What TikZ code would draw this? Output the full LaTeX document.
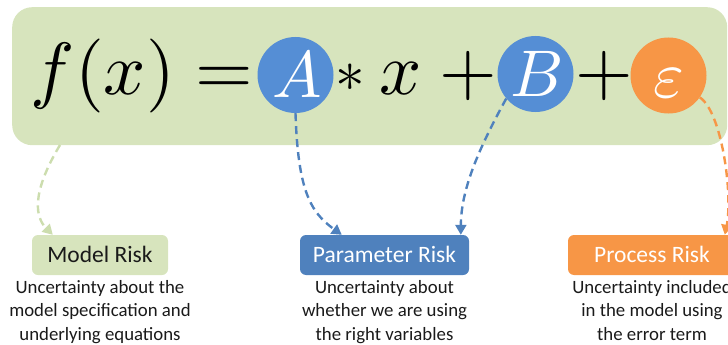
\documentclass[tikz,border=0pt]{standalone}
\usepackage{fontspec}
\setmainfont{Carlito}
\usetikzlibrary{arrows.meta}

\definecolor{olivebg}{HTML}{D7E4BD}
\definecolor{olivedash}{HTML}{CCDDAE}
\definecolor{bluecirc}{HTML}{558ED5}
\definecolor{bluebox}{HTML}{4F81BD}
\definecolor{orangeacc}{HTML}{F79646}
\definecolor{inktext}{HTML}{1A1A1A}

\tikzset{
  mathbig/.style={anchor=base, inner sep=0pt, scale=7.4, font=\fontsize{10}{12}\selectfont},
  coef/.style={circle, inner sep=0pt, minimum size=76pt},
  coefletter/.style={anchor=base, inner sep=0pt, text=white, scale=6.6,
    font=\fontsize{10}{12}\selectfont},
  riskbox/.style={rounded corners=6pt, inner sep=0pt, minimum height=40pt,
    font=\fontsize{23.5}{25}\selectfont, text height=15.1pt, text depth=0pt},
  desc/.style={anchor=base, align=center, inner sep=0pt, text=inktext,
    font=\fontsize{18.8}{23.5}\selectfont},
  flow/.style={line width=2.4pt, dash pattern=on 8pt off 5pt,
    -{Triangle[length=10pt,width=11pt]}}
}

\begin{document}
\begin{tikzpicture}[x=1pt,y=-1pt]
\useasboundingbox (0,0) rectangle (728,345);
\clip (0,0) rectangle (728,345);

% equation panel
\node[fill=olivebg, rounded corners=20pt, minimum width=715pt, minimum height=138pt,
  inner sep=0pt, anchor=north west] (eq) at (12,7) {};

% formula pieces
\node[mathbig] (fx) at (103,94) {$f(x)$};
\node[mathbig] (eqs) at (224,94) {$=$};
\node[coef, fill=bluecirc] (A) at (295.5,75) {};
\node[coefletter] (Al) at (297,97) {$A$};
\node[mathbig, scale=0.8] (star) at (350,91) {$\ast$};
\node[mathbig] (xv) at (401,94) {$x$};
\node[mathbig] (plus1) at (468,94) {$+$};
\node[coef, fill=bluecirc] (B) at (535.5,74) {};
\node[coefletter] (Bl) at (537,96) {$B$};
\node[mathbig] (plus2) at (604,94) {$+$};
\node[coef, fill=orangeacc] (E) at (668.5,75.5) {};
\node[coefletter] (El) at (669,97) {$\varepsilon$};

% risk categories
\node[riskbox, fill=olivebg, text=inktext, minimum width=136pt] (model) at (100,255) {Model Risk};
\node[riskbox, fill=bluebox, text=white, minimum width=169pt] (param) at (384.5,255) {Parameter Risk};
\node[riskbox, fill=orangeacc, text=white, minimum width=168pt] (proc) at (652,255) {Process Risk};

% descriptions (base anchor sits on the last line)
\node[desc] (dmodel) at (100,340) {Uncertainty about the\\model specification and\\underlying equations};
\node[desc] (dparam) at (384.5,340) {Uncertainty about\\whether we are using\\the right variables};
\node[desc] (dproc) at (652,340) {Uncertainty included\\in the model using\\the error term};

% connectors
\coordinate (g0) at (60,145);
\draw[flow, olivedash] (g0) .. controls (30,195) and (36,218) .. ([xshift=21pt]model.north west);
\draw[flow, bluebox] (A.south) .. controls (298,190) and (310,212) .. ([xshift=42pt]param.north west);
\draw[flow, bluebox] (B.220) .. controls (478,150) and (461,190) .. ([xshift=161pt]param.north west);
\draw[flow, orangeacc] (E.-35) .. controls (722,112) and (733,195) .. ([xshift=157pt]proc.north west);
\end{tikzpicture}
\end{document}
